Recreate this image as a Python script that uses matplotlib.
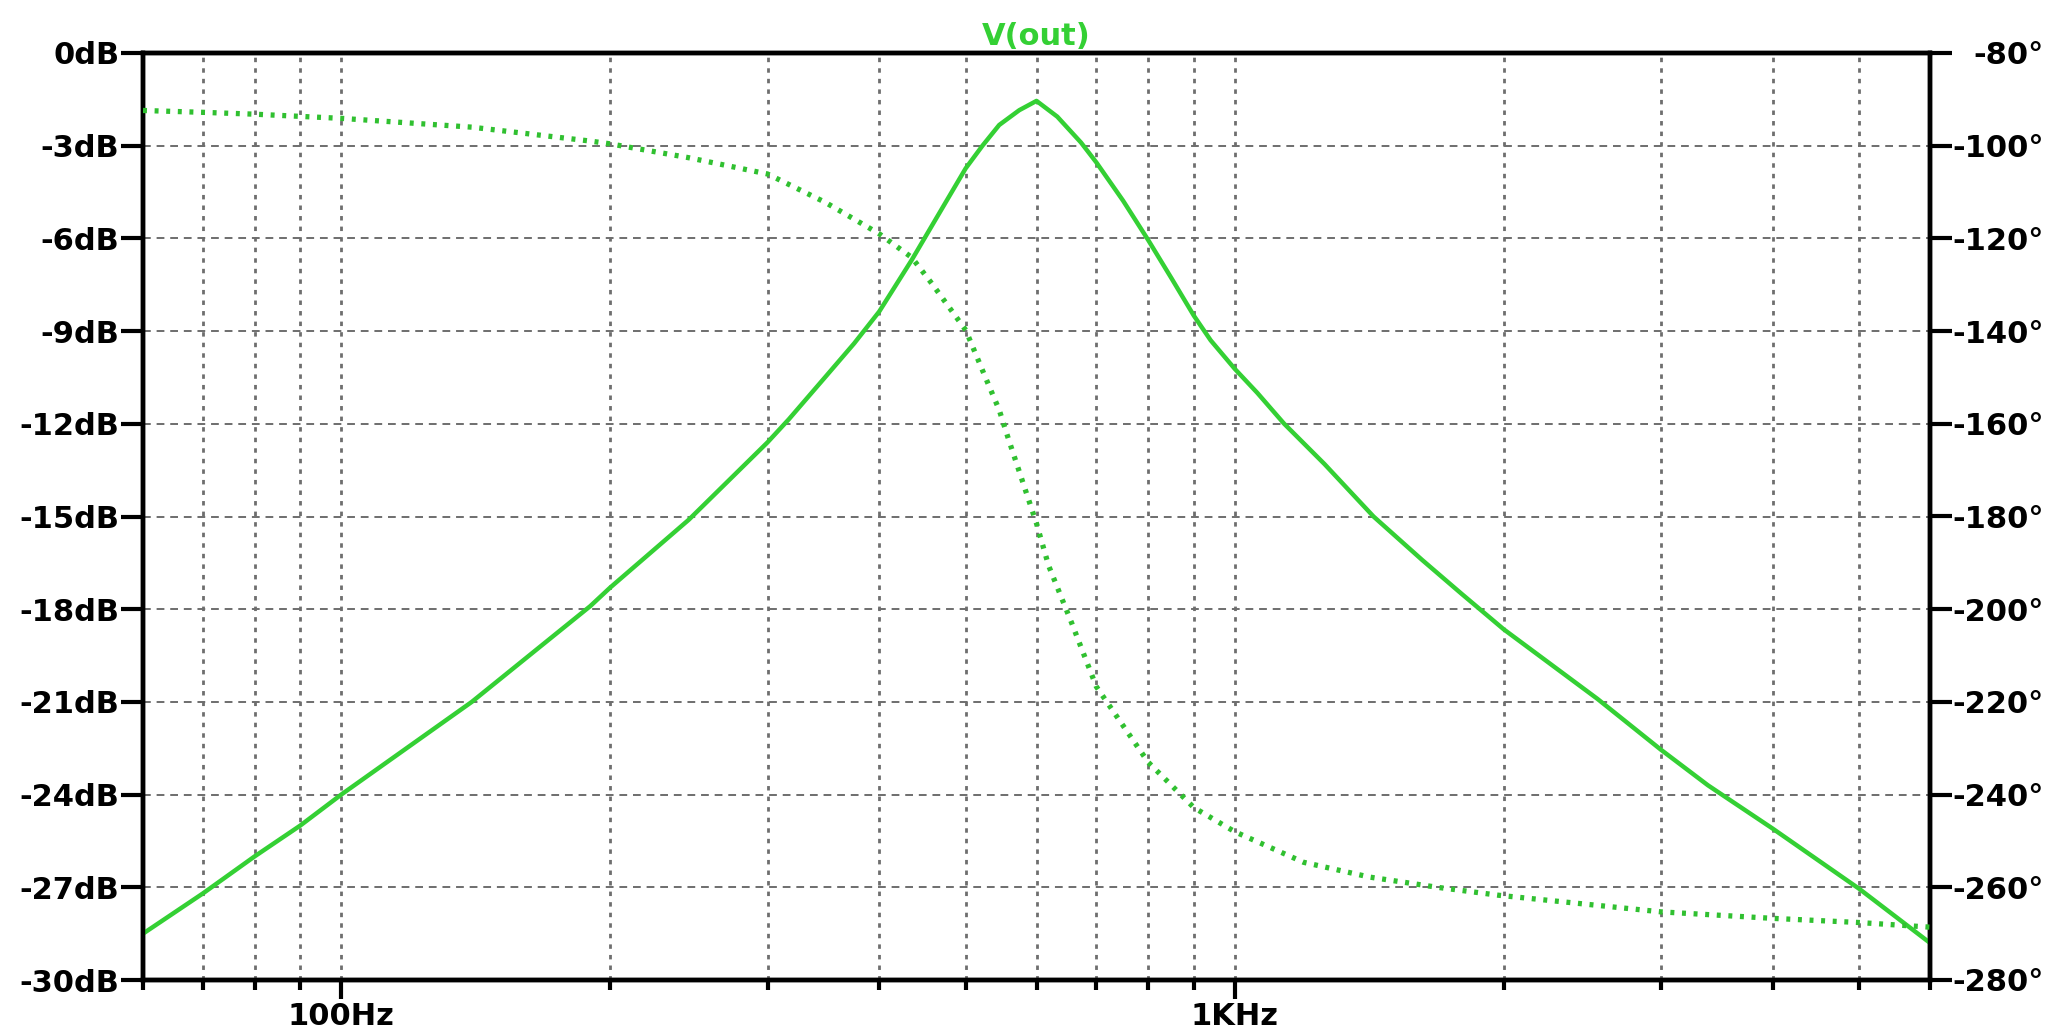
import matplotlib
matplotlib.use('Agg')
import matplotlib.pyplot as plt
from matplotlib.ticker import FixedLocator, FixedFormatter, NullFormatter

# ---- data (Bode plot of V(out)) ----
mag_freq = [60, 70, 80, 90, 100, 140, 190, 200, 245, 300, 317, 349, 375, 400,
            435, 458, 500, 522, 545, 574, 600, 633, 673, 700, 750, 800, 850,
            900, 940, 1000, 1060, 1136, 1260, 1430, 1620, 1794, 2000,
            2546, 3000, 3386, 4000, 5000, 6000]
mag_db = [-28.5, -27.2, -26.0, -25.0, -24.0, -21.0, -17.9, -17.3, -15.1, -12.6,
          -11.85, -10.45, -9.4, -8.37, -6.7, -5.6, -3.73, -3.0, -2.33,
          -1.85, -1.55, -2.06, -2.9, -3.54, -4.78, -6.05, -7.3, -8.5, -9.3,
          -10.22, -11.0, -12.0, -13.3, -15.0, -16.4, -17.5, -18.65,
          -20.9, -22.55, -23.7, -25.1, -27.05, -28.8]

phase_freq = [60, 70, 80, 100, 140, 190, 200, 245, 300, 348, 400, 435, 458, 500,
              530, 545, 558, 600, 619, 657, 700, 800, 900, 1000, 1194, 1416,
              1686, 1971, 3000, 4000, 5000, 6000]
phase_deg = [-92.4, -92.8, -93.2, -94.1, -96.0, -99.0, -99.6, -102.6, -106.1,
             -112.2, -119.0, -124.1, -129.7, -139.8, -151.5, -157.0, -163.2,
             -181.5, -190.6, -203.0, -216.7, -233.0, -242.8, -248.0, -254.6,
             -257.8, -260.0, -261.7, -265.3, -266.7, -267.6, -268.6]

db_ticks = [0, -3, -6, -9, -12, -15, -18, -21, -24, -27, -30]
deg_ticks = [-80, -100, -120, -140, -160, -180, -200, -220, -240, -260, -280]
x_major = [100, 1000]
x_major_labels = ['100Hz', '1KHz']
x_minor = [60, 70, 80, 90, 200, 300, 400, 500, 600, 700, 800, 900,
           2000, 3000, 4000, 5000, 6000]
title = 'V(out)'

GREEN = '#34d034'
GRID = '#6e6e6e'

plt.rcParams['font.family'] = ['DejaVu Sans']
plt.rcParams['font.weight'] = 'bold'

W, H = 2051, 1034
fig = plt.figure(figsize=(W / 100, H / 100), dpi=100)
L, R, T, B = 143, 1930, 53, 980
ax = fig.add_axes([L / W, 1 - B / H, (R - L) / W, (B - T) / H])
ax2 = ax.twinx()

ax.set_xscale('log')
ax.set_xlim(60, 6000)
ax.set_ylim(-30, 0)
ax2.set_ylim(-280, -80)

ax.xaxis.set_major_locator(FixedLocator(x_major))
ax.xaxis.set_major_formatter(FixedFormatter(x_major_labels))
ax.xaxis.set_minor_locator(FixedLocator(x_minor))
ax.xaxis.set_minor_formatter(NullFormatter())
ax.set_yticks(db_ticks)
ax.set_yticklabels([f'{v}dB' for v in db_ticks])
ax2.set_yticks(deg_ticks)
ax2.set_yticklabels([f'{v}°' for v in deg_ticks])

ax.yaxis.grid(True, color=GRID, linestyle=(0, (4, 3)), linewidth=1.4)
ax.xaxis.grid(True, which='both', color=GRID, linestyle=(0, (1.6, 2.2)), linewidth=2.0)
ax.set_axisbelow(True)

# curves
ax.plot(mag_freq, mag_db, color=GREEN, linewidth=3.2, solid_joinstyle='round', zorder=3)
ax2.plot(phase_freq, phase_deg, color='#30c030', linewidth=3.8,
         linestyle=(0, (0.75, 1.45)), zorder=3)

for a in (ax, ax2):
    for s in a.spines.values():
        s.set_linewidth(3.2)
        s.set_color('black')

fs = 22
ax.tick_params(axis='y', which='major', length=16, width=3, pad=1,
               labelsize=fs, colors='black')
ax.tick_params(axis='x', which='major', length=14, width=3, pad=2,
               labelsize=fs, colors='black')
ax.tick_params(axis='x', which='minor', length=7, width=3)
ax2.tick_params(axis='y', which='major', length=16, width=3, pad=66,
                labelsize=fs, colors='black')
for lbl in ax2.get_yticklabels():
    lbl.set_horizontalalignment('right')
for lbl in ax.get_xticklabels() + ax.get_yticklabels() + ax2.get_yticklabels():
    lbl.set_fontweight('bold')

ax.set_title(title, color=GREEN, fontsize=fs, fontweight='bold', pad=6)

fig.savefig('out.png', dpi=100, facecolor='white')
